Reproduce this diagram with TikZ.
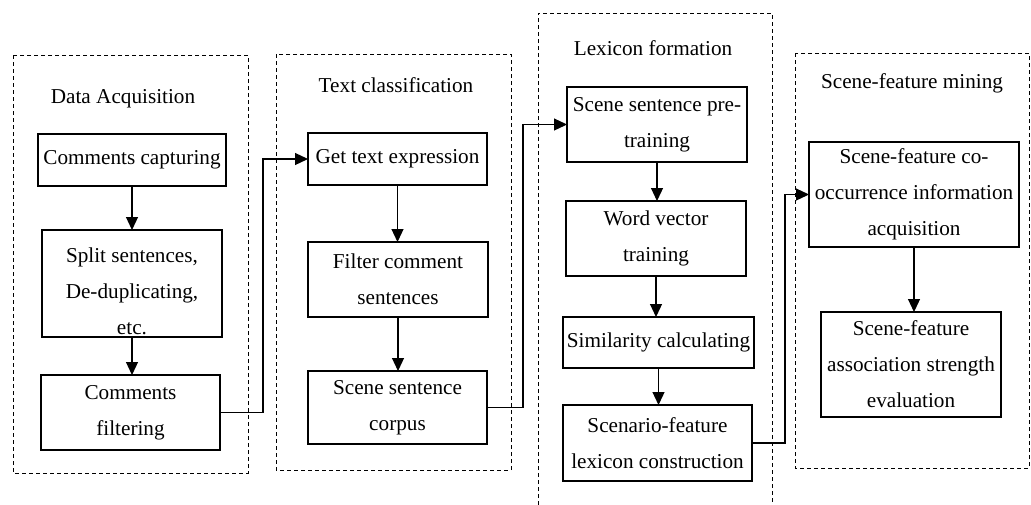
\documentclass[tikz,border=0pt]{standalone}
\usepackage{fontspec}
\setmainfont{Liberation Serif}
\usetikzlibrary{arrows.meta}
\begin{document}
\begin{tikzpicture}[x=0.5pt,y=-0.5pt,>={Triangle[length=6.5pt,width=6pt]},
	box/.style={draw,line width=0.6pt,inner sep=0pt,outer sep=0pt,align=center,
		font=\fontsize{10.6}{18}\selectfont},
	boxtext/.style={align=center,inner sep=0pt,font=\fontsize{10.6}{18}\selectfont},
	group/.style={draw,dash pattern=on 2pt off 1.5pt,line width=0.5pt},
	title/.style={font=\fontsize{10.6}{13}\selectfont},
	link/.style={->,line width=0.6pt}]
\useasboundingbox (0,0) rectangle (1031,504);
\draw[group] (13,55) rectangle (248,473);
\draw[group] (276,54) rectangle (511,470);
\draw[group] (538,512) |- (772,13) -- (772,512);
\draw[group] (795,53) rectangle (1029,468);
\node[title] (tda) at (123,99) {Data Acquisition};
\node[title] (ttc) at (396,85) {Text classification};
\node[title] (tlf) at (653,48) {Lexicon formation};
\node[title] (tsm) at (912,83) {Scene-feature mining};
\node[box,minimum width=94pt,minimum height=26pt] (cc) at (132,160) {Comments capturing};
\node[box,minimum width=90pt,minimum height=53.5pt,
	label={[boxtext,yshift=-4pt]center:{Split sentences,\\De-duplicating,\\etc.}}]
	(split) at (132,283.5) {};
\node[box,minimum width=89.5pt,minimum height=37.5pt] (cf) at (130.5,412.5)
	{Comments\\filtering};
\node[box,minimum width=89.5pt,minimum height=26pt] (gte) at (397.5,159) {Get text expression};
\node[box,minimum width=90pt,minimum height=37.5pt] (fcs) at (398,279.5)
	{Filter comment\\sentences};
\node[box,minimum width=89.5pt,minimum height=36.5pt] (ssc) at (397.5,407.5)
	{Scene sentence\\corpus};
\node[box,minimum width=90pt,minimum height=37.5pt] (pre) at (657,124.5)
	{Scene sentence pre-\\training};
\node[box,minimum width=90pt,minimum height=37.5pt] (wvt) at (656,238.5)
	{Word vector\\training};
\node[box,minimum width=95.5pt,minimum height=25.5pt] (sim) at (658.5,342.5)
	{Similarity calculating};
\node[box,minimum width=94.5pt,minimum height=38pt] (slc) at (657.5,443)
	{Scenario-feature\\lexicon construction};
\node[box,minimum width=105pt,minimum height=52.5pt] (cooc) at (914,194.5)
	{Scene-feature co-\\occurrence information\\acquisition};
\node[box,minimum width=90pt,minimum height=52.5pt] (ase) at (911,364.5)
	{Scene-feature\\association strength\\evaluation};
\draw[link] (cc.south) -- (cc.south |- split.north);
\draw[link] (split.south) -- (split.south |- cf.north);
\draw[link] (gte.south) -- (gte.south |- fcs.north);
\draw[link] (fcs.south) -- (fcs.south |- ssc.north);
\draw[link] (pre.south) -- (pre.south |- wvt.north);
\draw[link] (wvt.south) -- (wvt.south |- sim.north);
\draw[link] (sim.south) -- (sim.south |- slc.north);
\draw[link] (cooc.south) -- (cooc.south |- ase.north);
\draw[link] (cf.east) -- ++(43,0) |- (gte.west);
\draw[link] (ssc.east) -- ++(36,0) |- (pre.west);
\draw[link] (slc.east) -- ++(33,0) |- (cooc.west);
\end{tikzpicture}
\end{document}
